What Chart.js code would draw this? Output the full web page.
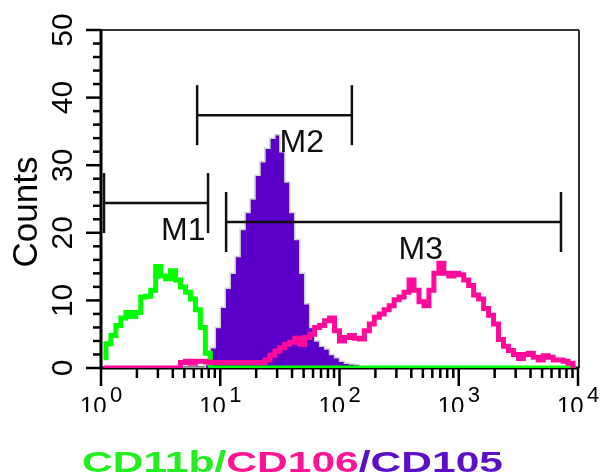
<!DOCTYPE html>
<html>
<head>
<meta charset="utf-8">
<script src="https://cdn.jsdelivr.net/npm/chart.js@4"></script>
<style>
  body { margin: 0; background: #fff; }
</style>
</head>
<body>
<canvas id="histo" width="602" height="475"></canvas>
<script>
// histogram channels: 24 bins per decade, 10^0 .. 10^4
var binsPerDecade = 24;

// counts per channel
var cd11b = [
    1.5, 3.6, 4.8, 6.3, 7.4, 8.2, 7.6, 8.2, 10.5, 10.6, 11.5, 15.0,
    13.6, 13.2, 14.4, 13.0, 12.0, 11.2, 10.2, 8.6, 6.0, 2.2, 0, 0,
    0, 0, 0, 0, 0, 0, 0, 0, 0, 0, 0, 0,
    0, 0, 0, 0, 0, 0, 0, 0, 0, 0, 0, 0,
    0, 0, 0, 0, 0, 0, 0, 0, 0, 0, 0, 0,
    0, 0, 0, 0, 0, 0, 0, 0, 0, 0, 0, 0,
    0, 0, 0, 0, 0, 0, 0, 0, 0, 0, 0, 0,
    0, 0, 0, 0, 0, 0, 0, 0, 0, 0, 0, 0
];
var cd106 = [
    0, 0, 0, 0, 0, 0, 0, 0, 0, 0, 0, 0,
    0, 0, 0, 0, 0.8, 1.0, 0.7, 1.0, 1.0, 0.9, 0.8, 0.8,
    0.8, 0.8, 0.8, 0.8, 0.8, 0.8, 0.8, 0.8, 0.8, 1.2, 1.9, 2.5,
    3.0, 3.5, 3.8, 4.4, 3.5, 4.5, 5.0, 6.0, 6.3, 7.0, 7.4, 5.5,
    4.0, 4.5, 4.8, 4.4, 4.3, 5.5, 6.5, 7.5, 8.0, 8.6, 9.2, 10.1,
    10.5, 11.2, 13.0, 11.5, 9.8, 9.2, 11.5, 14.0, 15.5, 14.0, 13.6, 14.0,
    13.8, 13.0, 12.2, 10.8, 10.2, 8.8, 7.8, 6.5, 4.2, 3.2, 2.6, 2.0,
    1.4, 2.0, 2.2, 1.6, 1.2, 1.8, 1.6, 1.2, 1.2, 1.0, 0.7, 0.3
];
var cd105 = [
    0, 0, 0, 0, 0, 0, 0, 0, 0, 0, 0, 0,
    0, 0, 0, 0, 0, 0, 0, 0, 0, 0.5, 3.0, 6.0,
    9.0, 11.8, 14.0, 16.5, 20.5, 23.0, 25.0, 28.5, 30.5, 32.5, 34.0, 34.5,
    32.0, 27.5, 23.0, 19.0, 14.0, 9.5, 6.0, 4.0, 3.2, 2.8, 2.0, 1.5,
    1.0, 0.7, 0.6, 0.5, 0, 0, 0, 0, 0, 0, 0, 0,
    0, 0, 0, 0, 0, 0, 0, 0, 0, 0, 0, 0,
    0, 0, 0, 0, 0, 0, 0, 0, 0, 0, 0, 0,
    0, 0, 0, 0, 0, 0, 0, 0, 0, 0, 0, 0
];

var yTicks = [0, 10, 20, 30, 40, 50];
var xDecades = [0, 1, 2, 3, 4];

// gates
var markerNames = ['M1', 'M2', 'M3'];
var markerFrom = [1.06, 6.4, 11.2];
var markerTo = [7.9, 127, 7200];
var markerLevel = [24.4, 37.4, 21.6];

var titleParts = ['CD11b/', 'CD106', '/CD105'];
var titleColors = ['#22ee22', '#ff1493', '#5b10c8'];

var channels = cd11b.map(function (v, i) {
    return Math.pow(10, (i + 0.5) / binsPerDecade);
});

var toPoints = function (series) {
    return series.map(function (v, i) {
        return { x: channels[i], y: v };
    });
};

var seg = function (ctx, x1, y1, x2, y2) {
    ctx.beginPath();
    ctx.moveTo(x1, y1);
    ctx.lineTo(x2, y2);
    ctx.stroke();
};

var frame = {
    id: 'frame',
    beforeDatasetsDraw: function (chart) {
        var ctx = chart.ctx, a = chart.chartArea;
        ctx.save();
        ctx.strokeStyle = '#333';
        ctx.lineWidth = 2;
        seg(ctx, a.left, a.top, a.right + 1, a.top);
        seg(ctx, a.right + 1, a.top, a.right + 1, a.bottom);
        ctx.strokeStyle = '#000';
        ctx.lineWidth = 3;
        seg(ctx, a.left, a.top - 1, a.left, a.bottom + 1);
        seg(ctx, a.left, a.bottom, a.right + 1, a.bottom);
        ctx.restore();
    }
};

var decorations = {
    id: 'decorations',
    afterDatasetsDraw: function (chart) {
        var ctx = chart.ctx, a = chart.chartArea;
        var xs = chart.scales.x, ys = chart.scales.y;
        ctx.save();
        ctx.strokeStyle = '#000';
        ctx.fillStyle = '#000';
        ctx.lineWidth = 2.5;

        // y ticks, minor every 2 counts
        for (var v = 0; v <= 50; v += 2) {
            var py = ys.getPixelForValue(v);
            seg(ctx, a.left - (v % 10 === 0 ? 15 : 8), py, a.left, py);
        }
        ctx.font = '30px "Liberation Sans", Arial, sans-serif';
        ctx.textAlign = 'center';
        ctx.textBaseline = 'alphabetic';
        yTicks.forEach(function (t) {
            ctx.save();
            ctx.translate(72, ys.getPixelForValue(t));
            ctx.rotate(-Math.PI / 2);
            ctx.fillText(String(t), 0, 0);
            ctx.restore();
        });
        ctx.save();
        ctx.font = '35px "Liberation Sans", Arial, sans-serif';
        ctx.translate(37, (a.top + a.bottom) / 2 + 13);
        ctx.rotate(-Math.PI / 2);
        ctx.fillText('Counts', 0, 0);
        ctx.restore();

        // x ticks, log decades with minor 2..9
        xDecades.forEach(function (k) {
            for (var m = 1; m <= 9; m++) {
                if (k === 4 && m > 1) break;
                var px = xs.getPixelForValue(m * Math.pow(10, k));
                seg(ctx, px, a.bottom, px, a.bottom + (m === 1 ? 18 : 10));
            }
        });
        ctx.save();
        ctx.beginPath();
        ctx.rect(0, 0, chart.width, 412);
        ctx.clip();
        ctx.textAlign = 'left';
        xDecades.forEach(function (k) {
            var px = xs.getPixelForValue(Math.pow(10, k));
            ctx.font = '24px "Liberation Sans", Arial, sans-serif';
            ctx.fillText('10', px - 21, 414);
            ctx.font = '22px "Liberation Sans", Arial, sans-serif';
            ctx.fillText(String(k), px + 9, 402);
        });
        ctx.restore();

        // gates
        ctx.lineWidth = 2.5;
        ctx.strokeStyle = '#111';
        ctx.fillStyle = '#111';
        ctx.font = '32px "Liberation Sans", Arial, sans-serif';
        ctx.textAlign = 'left';
        markerNames.forEach(function (name, i) {
            var x1 = xs.getPixelForValue(markerFrom[i]);
            var x2 = xs.getPixelForValue(markerTo[i]);
            var y = ys.getPixelForValue(markerLevel[i]);
            seg(ctx, x1, y, x2, y);
            seg(ctx, x1, y - 30, x1, y + 30);
            seg(ctx, x2, y - 30, x2, y + 30);
            ctx.fillText(name, (x1 + x2) / 2 + 5, y + 37);
        });

        // coloured caption
        ctx.font = 'bold 30px "Liberation Sans", Arial, sans-serif';
        var widths = titleParts.map(function (p) { return ctx.measureText(p).width; });
        var total = widths.reduce(function (s, w) { return s + w; }, 0);
        ctx.translate(82, 472);
        ctx.scale(421 / total, 1);
        var cx = 0;
        titleParts.forEach(function (p, i) {
            ctx.fillStyle = titleColors[i];
            ctx.fillText(p, cx, 0);
            cx += widths[i];
        });
        ctx.restore();
    }
};

var config = {
    type: 'line',
    data: {
        datasets: [{
            label: 'CD106',
            data: toPoints(cd106),
            borderColor: '#ff0a9b',
            borderWidth: 5,
            stepped: 'middle',
            pointRadius: 0,
            fill: false
        }, {
            label: 'CD11b',
            data: toPoints(cd11b),
            borderColor: '#00ff00',
            borderWidth: 5,
            stepped: 'middle',
            pointRadius: 0,
            fill: false
        }, {
            label: 'CD105',
            data: toPoints(cd105),
            borderColor: '#cfcfcf',
            borderWidth: 1.5,
            backgroundColor: '#5a00c8',
            stepped: 'middle',
            pointRadius: 0,
            fill: 'origin'
        }]
    },
    options: {
        responsive: false,
        animation: false,
        layout: {
            padding: { left: 101, right: 24, top: 30, bottom: 107 }
        },
        scales: {
            x: { type: 'logarithmic', min: 1, max: 10000, display: false },
            y: { type: 'linear', min: 0, max: 50, display: false }
        },
        plugins: {
            legend: { display: false },
            tooltip: { enabled: false }
        }
    },
    plugins: [frame, decorations]
};

window.onload = function () {
    var ctx = document.getElementById('histo').getContext('2d');
    window.myHisto = new Chart(ctx, config);
};
</script>
</body>
</html>
